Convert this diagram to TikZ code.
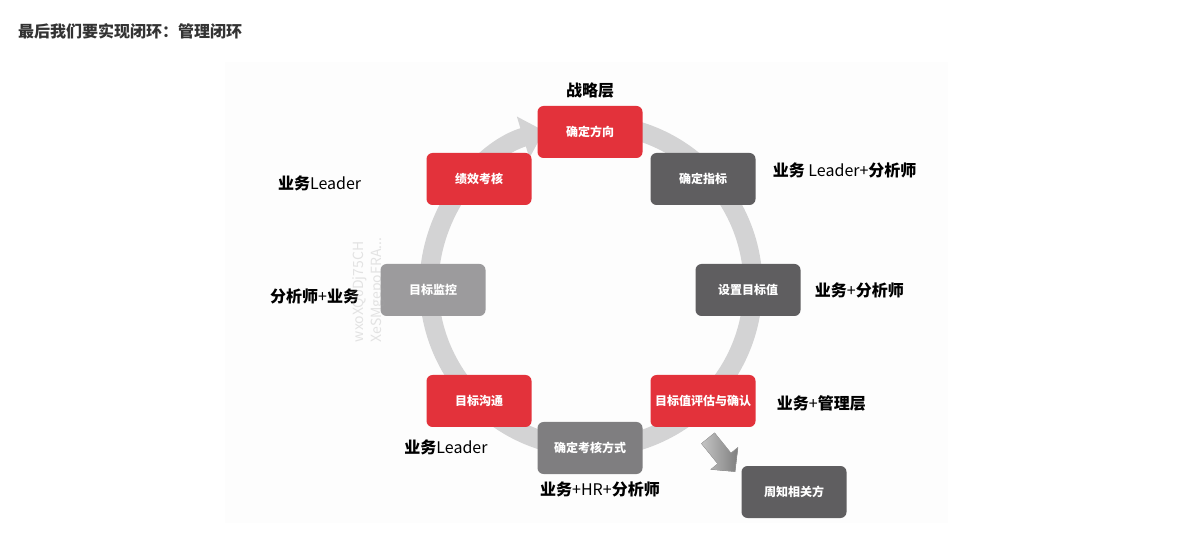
\documentclass[tikz,border=0pt]{standalone}
\usepackage{fontspec}
\setmainfont{Noto Sans CJK SC}
\usepackage{xcolor}
\usepackage{tikz}
\usetikzlibrary{arrows.meta,positioning,calc}
\definecolor{ringgray}{HTML}{D3D3D4}
\definecolor{boxred}{HTML}{E3323B}
\definecolor{boxdark}{HTML}{5F5E60}
\definecolor{boxmid}{HTML}{7F7E80}
\definecolor{boxlight}{HTML}{9C9B9D}
\definecolor{titlegray}{HTML}{333333}
\definecolor{paper}{HTML}{FDFDFD}
\definecolor{arrowlight}{HTML}{C4C4C4}
\definecolor{arrowdark}{HTML}{7E7E7E}
\newcommand\zb[1]{{\bfseries #1}}
\tikzset{
  stepbox/.style={
    rounded corners=6pt,minimum width=105pt,minimum height=52pt,
    inner sep=0pt,align=center,text=white,
    font=\bfseries\fontsize{12}{14}\selectfont
  },
  redbox/.style={stepbox,fill=boxred},
  darkbox/.style={stepbox,fill=boxdark},
  midbox/.style={stepbox,fill=boxmid},
  lightbox/.style={stepbox,fill=boxlight},
  role/.style={inner sep=0pt,text=black,font=\fontsize{16}{19}\selectfont},
  ring/.style={draw=ringgray,line width=19pt,-{Triangle[length=22pt,width=42pt]}},
  notearrow/.style={left color=arrowlight,right color=arrowdark,draw=gray!70,line width=.4pt}
}

\begin{document}
\begin{tikzpicture}[x=1pt,y=1pt]
\useasboundingbox (0,0) rectangle (1179,-537);
\fill[paper] (225,-62) rectangle (948,-523);

\node[anchor=west,inner sep=0pt,text=titlegray,font=\bfseries\fontsize{16}{19}\selectfont]
  (title) at (18,-31) {最后我们要实现闭环：管理闭环};

% the loop
\coordinate (ctr) at (591,-286);
\draw[ring] ($(ctr)+(80:162)$) arc[start angle=80,end angle=-253.2,radius=162];

\node[redbox] (dir) at (590,-132) {确定方向};
\node[darkbox] (ind) at (703,-179) {确定指标};
\node[darkbox] (setv) at (748,-290) {设置目标值};
\node[redbox] (eval) at (703,-401) {目标值评估与确认};
\node[midbox] (cons) at (590,-448) {确定考核方式};
\node[redbox] (comm) at (479,-401) {目标沟通};
\node[lightbox] (mon) at (433,-290) {目标监控};
\node[redbox] (perf) at (479,-179) {绩效考核};
\node[darkbox] (notify) at (794,-492) {周知相关方};

% who is involved
\node[role,above=7pt of dir] (lstrat) {\zb{战略层}};
\node[role,right=17pt of ind,yshift=9pt] (lind) {\zb{业务} Leader+\zb{分析师}};
\node[role,right=14pt of setv] (lsetv) {\zb{业务}+\zb{分析师}};
\node[role,right=21pt of eval,yshift=-2pt] (leval) {\zb{业务}+\zb{管理层}};
\node[role,below=7pt of cons,xshift=10pt] (lcons) {\zb{业务}+HR+\zb{分析师}};
\node[role,below=12pt of comm,xshift=-33pt] (lcomm) {\zb{业务}Leader};
\node[role,left=21pt of mon,yshift=-6pt] (lmon) {\zb{分析师}+\zb{业务}};
\node[role,left=65pt of perf,yshift=-4pt] (lperf) {\zb{业务}Leader};

% hand-off to the stakeholders
\begin{scope}[shift={($(eval.south)+(5,-11)$)},rotate=-51]
\filldraw[notearrow] (0,-8.5) -- (26,-8.5) -- (26,-17.5) -- (43,0)
  -- (26,17.5) -- (26,8.5) -- (0,8.5) -- cycle;
\end{scope}

\node[rotate=90,align=left,inner sep=0pt,text=gray!70,opacity=.3,
  font=\fontsize{14}{18}\selectfont] (mark) at (369,-290)
  {wxoXQ0Dj75CH\\XeSMgepoFRA...};
\end{tikzpicture}
\end{document}
